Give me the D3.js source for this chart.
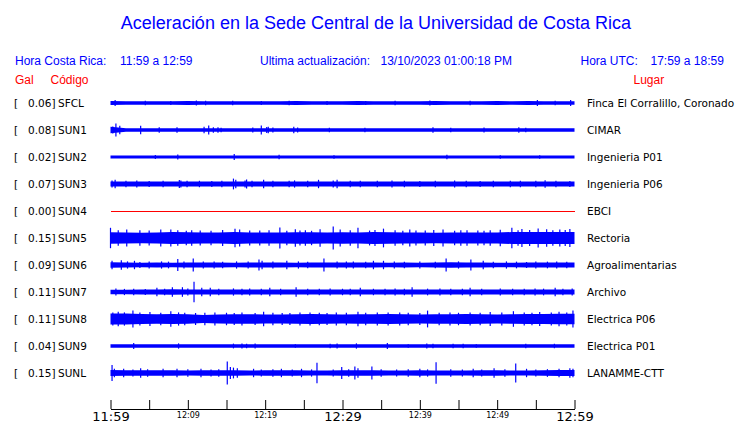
<!DOCTYPE html>
<html>
<head>
<meta charset="utf-8">
<script src="https://cdn.jsdelivr.net/npm/d3@7"></script>
<style>
  html, body { margin: 0; padding: 0; background: #fff; }
  svg { display: block; }
</style>
</head>
<body>
<svg id="chart" width="740" height="423"></svg>
<script>
// ---------------- DATA ----------------
const title = "Aceleración en la Sede Central de la Universidad de Costa Rica";
const headerLocal = "Hora Costa Rica:";
const headerLocalRange = "11:59 a 12:59";
const headerUpdate = "Ultima actualización:";
const headerUpdateValue = "13/10/2023 01:00:18 PM";
const headerUtc = "Hora UTC:";
const headerUtcRange = "17:59 a 18:59";
const colGal = "Gal", colCode = "Código", colPlace = "Lugar";

const stations = ["SFCL","SUN1","SUN2","SUN3","SUN4","SUN5","SUN6","SUN7","SUN8","SUN9","SUNL"];
const peakGal  = [0.06, 0.08, 0.02, 0.07, 0.00, 0.15, 0.09, 0.11, 0.11, 0.04, 0.15];
const places   = ["Finca El Corralillo, Coronado","CIMAR","Ingenieria P01","Ingenieria P06","EBCI",
                  "Rectoria","Agroalimentarias","Archivo","Electrica P06","Electrica P01","LANAMME-CTT"];

// time window (local time), minutes from start
const startTime = new Date(2023, 9, 13, 11, 59);
const windowMinutes = 60;
const envelopeStepMinutes = 2;

// background noise envelope: half-amplitude, % of row half-height, one value per 2 minutes
const envSFCL = [16,15,14,15,15,16,15,15,14,15,15,15,16,15,15,15,16,15,15,15,15,16,15,15,15,16,15,16,15,15];
const envSUN1 = [28,14,14,14,14,14,14,14,14,14,14,14,14,14,14,14,14,14,14,14,14,14,14,14,14,14,14,14,14,14];
const envSUN2 = [13,13,13,13,13,13,13,13,13,13,13,13,13,13,13,13,13,13,13,13,13,13,13,13,13,13,13,13,13,13];
const envSUN3 = [21,20,20,21,21,20,20,21,21,20,20,21,21,20,20,21,21,20,20,21,20,20,21,21,20,20,21,21,21,21];
const envSUN4 = [0,0,0,0,0,0,0,0,0,0,0,0,0,0,0,0,0,0,0,0,0,0,0,0,0,0,0,0,0,0];
const envSUN5 = [48,45,44,46,50,48,45,46,50,46,45,45,48,47,45,48,46,50,48,46,45,44,45,46,45,45,50,50,49,50];
const envSUN6 = [22,20,19,20,19,21,20,20,19,21,20,20,19,20,20,21,20,20,19,20,19,20,22,20,20,19,19,20,20,20];
const envSUN7 = [19,19,20,20,23,21,20,20,20,20,20,21,21,20,20,20,20,21,20,20,20,20,21,20,20,20,20,20,20,20];
const envSUN8 = [46,46,42,40,41,40,34,38,40,40,38,38,40,41,40,38,40,40,41,40,38,40,40,41,40,38,40,41,42,44];
const envSUN9 = [14,14,14,14,14,14,14,14,14,14,14,14,14,14,14,14,14,14,14,14,14,14,14,14,14,14,14,14,14,14];
const envSUNL = [25,23,22,23,22,21,22,23,22,21,22,22,23,21,21,23,22,22,21,21,22,21,21,21,22,23,21,21,22,24];

// individual peaks: [minute, half-amplitude % of row half-height]
const spkSFCL = [[0.6,25],[4.5,18],[7.8,17],[11.1,20],[12.3,18],[15.8,18],[19.5,17],[23.1,18],[28.0,17],[33.0,17],
                 [36.8,18],[41.3,20],[46.5,18],[50.0,17],[55.2,25],[57.5,18],[59.5,25]];
const spkSUN1 = [[0.3,30],[0.7,55],[1.2,35],[3.9,35],[6.3,22],[8.6,22],[12.1,28],[12.7,38],[13.3,22],[13.9,22],[14.3,18],
                 [18.4,20],[19.5,38],[20.2,25],[20.4,28],[21.0,20],[23.7,28],[24.2,20],[28.3,18],[32.9,18],[41.7,22],
                 [44.0,18],[48.3,20],[52.8,22],[53.7,18]];
const spkSUN2 = [[5.8,16],[8.7,20],[16.0,25],[21.8,18],[28.9,15],[43.5,18],[50.4,15],[55.5,15]];
const spkSUN3 = [[0.2,30],[0.6,35],[2.0,27],[3.4,30],[5.0,26],[6.8,28],[8.9,33],[9.1,30],[9.9,28],[11.5,27],[13.1,25],
                 [14.4,28],[15.9,45],[16.2,35],[17.4,30],[17.6,38],[18.3,28],[19.8,35],[21.0,27],[23.1,28],[23.8,30],
                 [25.5,27],[26.9,35],[28.8,30],[29.3,35],[31.0,27],[32.3,28],[34.5,27],[36.4,30],[38.0,27],[40.0,25],
                 [42.0,27],[44.5,30],[46.0,27],[47.8,25],[49.5,27],[51.7,28],[53.0,27],[55.0,27],[56.2,32],[57.6,28],[59.4,25]];
const spkSUN4 = [];
const spkSUN5 = [[0.0,85],[1.0,65],[2.1,70],[3.8,65],[5.0,62],[6.5,70],[7.8,70],[8.7,65],[9.8,60],[10.5,64],[11.6,62],
                 [13.0,60],[14.5,66],[16.1,78],[16.7,70],[18.0,62],[19.3,62],[20.5,64],[21.9,88],[22.8,60],[23.9,72],
                 [24.5,62],[25.2,65],[26.0,60],[27.1,72],[28.8,95],[29.7,70],[31.0,64],[32.0,85],[33.5,62],[34.2,66],
                 [35.3,78],[36.8,65],[37.8,60],[38.7,70],[39.5,62],[40.7,62],[41.8,66],[43.0,70],[44.5,60],[45.3,64],
                 [46.1,65],[47.5,62],[48.3,60],[49.1,65],[50.4,68],[51.9,85],[52.7,64],[53.2,75],[54.2,66],[55.3,80],
                 [56.4,72],[57.2,64],[58.1,70],[58.8,66],[59.4,75]];
const spkSUN6 = [[0.2,35],[1.4,40],[2.2,30],[3.1,35],[3.8,25],[5.0,30],[6.6,30],[7.5,28],[8.7,50],[9.5,30],[10.7,55],
                 [12.0,30],[13.4,30],[14.5,28],[16.3,30],[17.8,30],[19.2,45],[19.6,35],[21.0,30],[22.8,35],[24.3,30],
                 [25.5,28],[27.6,55],[29.3,30],[30.5,30],[31.4,30],[33.0,28],[34.0,35],[35.3,35],[36.7,30],[38.0,28],
                 [40.0,30],[42.0,28],[43.4,55],[45.0,30],[46.6,45],[48.2,35],[49.5,28],[51.2,30],[52.5,28],[53.8,25],
                 [55.0,30],[56.5,28],[57.7,30],[59.0,28]];
const spkSUN7 = [[0.7,30],[1.8,26],[3.0,28],[4.5,26],[6.0,35],[7.0,28],[8.0,40],[9.3,40],[10.0,30],[10.8,85],[11.8,35],
                 [12.9,35],[14.0,28],[15.9,30],[17.0,27],[18.0,30],[19.5,28],[20.6,35],[22.0,28],[24.0,40],[25.5,28],
                 [27.0,28],[28.4,30],[30.0,27],[31.0,28],[32.3,35],[34.0,27],[35.5,28],[36.8,30],[38.0,27],[39.0,40],
                 [41.0,28],[42.6,30],[44.0,27],[45.5,28],[46.5,35],[48.0,27],[50.4,30],[52.0,28],[53.5,27],[54.9,30],
                 [56.0,28],[57.5,35],[58.5,27],[59.7,30]];
const spkSUN8 = [[0.3,55],[1.0,60],[1.8,55],[2.9,70],[3.8,54],[5.1,58],[6.5,52],[7.8,65],[8.8,55],[9.6,52],[11.0,50],
                 [12.2,52],[13.5,55],[15.0,52],[16.0,50],[17.0,55],[18.7,50],[19.8,60],[21.0,52],[22.2,50],[23.2,50],
                 [24.5,54],[25.8,55],[27.0,52],[28.0,50],[29.2,55],[30.5,52],[32.0,60],[33.0,52],[34.5,54],[35.9,55],
                 [37.4,55],[38.5,52],[40.0,50],[41.0,70],[42.5,52],[43.9,55],[45.0,52],[46.5,55],[47.8,52],[49.1,58],
                 [50.6,54],[52.1,65],[53.5,55],[54.5,52],[55.5,58],[57.0,54],[58.0,60],[59.0,55],[59.8,70]];
const spkSUN9 = [[3.0,25],[8.8,22],[15.9,20],[17.0,20],[17.6,18],[18.7,20],[23.9,15],[28.4,18],[29.3,20],[31.8,22],
                 [35.8,25],[38.5,15],[40.9,20],[41.7,18],[44.3,18],[45.6,18],[47.3,15],[53.7,18],[57.4,18]];
const spkSUNL = [[0.2,67],[0.5,35],[1.7,35],[2.9,30],[3.9,40],[4.8,32],[6.8,35],[8.6,35],[10.0,32],[11.7,35],[13.0,30],
                 [14.0,32],[15.1,95],[15.5,50],[15.9,45],[16.4,40],[18.5,35],[19.5,30],[21.0,32],[22.1,35],[23.5,30],
                 [24.7,35],[26.0,30],[26.7,85],[28.8,30],[29.9,50],[30.8,32],[31.6,55],[32.0,40],[33.8,55],[35.0,32],
                 [37.0,30],[38.5,32],[40.0,35],[41.0,30],[42.1,90],[44.0,32],[45.5,30],[46.9,35],[48.0,30],[49.6,40],
                 [51.0,32],[52.4,80],[53.8,35],[55.0,30],[56.5,32],[58.0,35],[59.4,40],[59.8,35]];

const envelopes = [envSFCL,envSUN1,envSUN2,envSUN3,envSUN4,envSUN5,envSUN6,envSUN7,envSUN8,envSUN9,envSUNL];
const spikes    = [spkSFCL,spkSUN1,spkSUN2,spkSUN3,spkSUN4,spkSUN5,spkSUN6,spkSUN7,spkSUN8,spkSUN9,spkSUNL];

// ---------------- DRAW ----------------
const svg = d3.select("#chart");
const blue = "#0000ff", red = "#ff0000";
const headFont = "'Liberation Sans', Arial, sans-serif";
const labelFont = "'DejaVu Sans', sans-serif";

const timeAt = m => new Date(+startTime + m * 60000);
const x = d3.scaleTime()
  .domain([startTime, timeAt(windowMinutes)])
  .range([110.5, 574.5]);
const y = d3.scalePoint().domain(stations).range([103, 373]);
const amp = d3.scaleLinear().domain([0, 100]).range([0, 12]);

// Title & headers
svg.append("text").attr("x", 376).attr("y", 29).attr("text-anchor", "middle")
  .attr("font-family", headFont).attr("font-size", 18).attr("fill", blue).text(title);

const hdr = [
  [15, headerLocal], [120, headerLocalRange],
  [260, headerUpdate], [380.5, headerUpdateValue],
  [580.5, headerUtc], [650.5, headerUtcRange]
];
svg.append("g").selectAll("text").data(hdr).join("text")
  .attr("x", d => d[0]).attr("y", 65)
  .attr("font-family", headFont).attr("font-size", 12).attr("fill", blue)
  .text(d => d[1]);

const cols = [[15, colGal], [50.5, colCode], [633.5, colPlace]];
svg.append("g").selectAll("text").data(cols).join("text")
  .attr("x", d => d[0]).attr("y", 84)
  .attr("font-family", headFont).attr("font-size", 12).attr("fill", red)
  .text(d => d[1]);

// Row labels
const rows = svg.append("g").selectAll("g").data(stations).join("g")
  .attr("transform", d => `translate(0,${y(d)})`);
rows.append("text").attr("x", 14).attr("y", 3.8)
  .attr("font-family", labelFont).attr("font-size", 10.5).attr("fill", "#000").text("[");
rows.append("text").attr("x", 55.5).attr("y", 3.8).attr("text-anchor", "end")
  .attr("font-family", labelFont).attr("font-size", 10.5).attr("fill", "#000")
  .text((d, i) => peakGal[i].toFixed(2) + "]");
rows.append("text").attr("x", 58).attr("y", 3.8)
  .attr("font-family", labelFont).attr("font-size", 10.5).attr("fill", "#000").text(d => d);
rows.append("text").attr("x", 587).attr("y", 3.8)
  .attr("font-family", labelFont).attr("font-size", 10.5).attr("fill", "#000")
  .text((d, i) => places[i]);

// Traces
const traces = svg.append("g");
stations.forEach((s, i) => {
  const yc = y(s);
  const g = traces.append("g");
  if (peakGal[i] === 0) {
    g.append("line").attr("x1", x(timeAt(0))).attr("x2", x(timeAt(windowMinutes)))
      .attr("y1", yc + 0.5).attr("y2", yc + 0.5).attr("stroke", red).attr("stroke-width", 1)
      .attr("shape-rendering", "crispEdges");
    return;
  }
  const env = envelopes[i];
  const pts = env.map((v, k) => [k * envelopeStepMinutes, v]);
  pts.push([windowMinutes, env[env.length - 1]]);
  const area = d3.area()
    .x(d => x(timeAt(d[0])))
    .y0(d => yc + amp(d[1]))
    .y1(d => yc - amp(d[1]))
    .curve(d3.curveLinear);
  g.append("path").datum(pts).attr("d", area).attr("fill", blue);
  g.selectAll("line").data(spikes[i]).join("line")
    .attr("x1", d => x(timeAt(d[0]))).attr("x2", d => x(timeAt(d[0])))
    .attr("y1", d => yc - amp(d[1])).attr("y2", d => yc + amp(d[1]))
    .attr("stroke", blue).attr("stroke-width", 1.2);
});

// Time axis
const tickTimes = d3.range(0, windowMinutes + 1, 5).map(timeAt);
const fmt = d3.timeFormat("%H:%M");
const axis = d3.axisBottom(x)
  .tickValues(tickTimes)
  .tickSizeInner(-9).tickSizeOuter(0)
  .tickFormat((d, i) => (i % 2 === 0 ? fmt(d) : ""));
const ax = svg.append("g").attr("transform", "translate(0,409)").call(axis);
ax.select(".domain").attr("stroke", "#000");
ax.selectAll(".tick line").attr("stroke", "#000");
ax.selectAll(".tick text")
  .attr("font-family", labelFont)
  .attr("fill", "#000")
  .attr("font-size", (d, i) => (i % 6 === 0 ? 13 : 8));
</script>
</body>
</html>
